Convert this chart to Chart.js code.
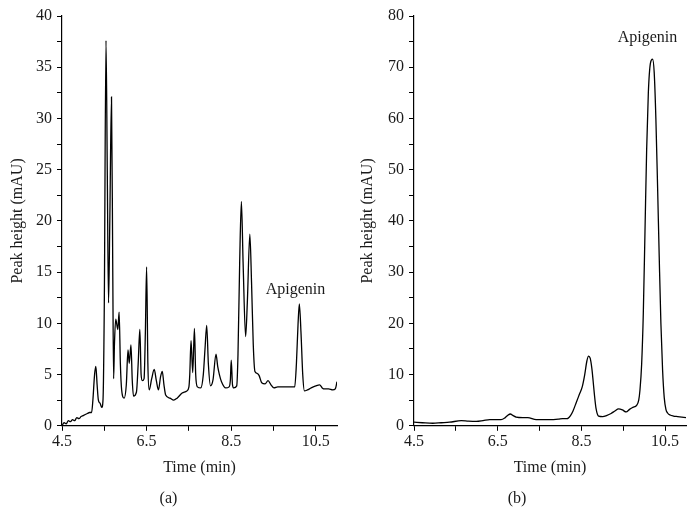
<!DOCTYPE html>
<html>
<head>
<meta charset="utf-8">
<script src="https://cdn.jsdelivr.net/npm/chart.js@4.4.1/dist/chart.umd.min.js"></script>
<style>
  body { margin: 0; background: #fff; }
  #wrap { position: relative; width: 697px; height: 530px; }
  canvas { position: absolute; top: 0; }
  #chartA { left: 0; }
  #chartB { left: 348px; }
</style>
</head>
<body>
<div id="wrap">
  <canvas id="chartA" width="348" height="530"></canvas>
  <canvas id="chartB" width="349" height="530"></canvas>
</div>
<script>
// chromatogram (a): retention time (min) and peak height (mAU)
const timesA = [4.50, 4.55, 4.60, 4.65, 4.70, 4.75, 4.80, 4.85, 4.90, 4.95, 5.00, 5.05, 5.10, 5.15, 5.20,
  5.23, 5.27, 5.30, 5.33, 5.36, 5.40, 5.44, 5.47, 5.50, 5.54, 5.57, 5.60, 5.63, 5.67, 5.70, 5.72, 5.74,
  5.77, 5.82, 5.85, 5.88, 5.91, 5.97, 6.02, 6.06, 6.09, 6.13, 6.16, 6.19, 6.26, 6.30, 6.34, 6.37, 6.40,
  6.44, 6.47, 6.50, 6.53, 6.56, 6.62, 6.68, 6.73, 6.78, 6.83, 6.87, 6.91, 6.95, 7.05, 7.14, 7.22, 7.34,
  7.45, 7.50, 7.52, 7.55, 7.59, 7.63, 7.66, 7.70, 7.78, 7.84, 7.88, 7.92, 7.96, 8.01, 8.07, 8.14, 8.18,
  8.22, 8.27, 8.37, 8.45, 8.48, 8.50, 8.53, 8.56, 8.63, 8.66, 8.70, 8.74, 8.78, 8.84, 8.88, 8.94, 8.98,
  9.02, 9.06, 9.12, 9.16, 9.22, 9.30, 9.37, 9.44, 9.51, 9.60, 9.75, 9.90, 10.00, 10.04, 10.08, 10.11,
  10.15, 10.19, 10.23, 10.30, 10.39, 10.50, 10.59, 10.65, 10.71, 10.80, 10.90, 10.96, 11.00];
const signalA = [0.0, 0.3, 0.2, 0.5, 0.4, 0.6, 0.5, 0.8, 0.7, 0.9, 1.0, 1.1, 1.2, 1.3, 1.3,
  2.5, 5.0, 5.8, 4.0, 2.5, 2.2, 1.8, 2.6, 12.0, 37.6, 25.0, 12.0, 20.0, 32.1, 15.0, 4.6, 8.0,
  10.4, 9.4, 11.1, 6.0, 3.5, 2.7, 4.0, 7.4, 6.1, 7.9, 4.5, 2.9, 3.3, 6.0, 9.4, 5.0, 4.4,
  4.6, 9.0, 15.5, 6.0, 3.5, 4.6, 5.5, 4.4, 3.5, 4.8, 5.3, 4.0, 3.0, 2.7, 2.5, 2.7, 3.2,
  3.4, 3.8, 5.0, 8.3, 5.2, 9.5, 5.0, 3.8, 3.7, 5.0, 7.5, 9.8, 6.0, 3.9, 4.5, 7.0, 5.8,
  5.0, 4.3, 3.7, 3.8, 4.5, 6.4, 4.0, 3.7, 3.9, 7.0, 16.0, 21.9, 16.0, 8.7, 12.0, 18.7, 14.0,
  8.0, 5.3, 5.1, 4.9, 4.2, 4.1, 4.4, 4.0, 3.7, 3.8, 3.8, 3.8, 3.8, 6.0, 10.0, 11.9,
  9.0, 5.0, 3.4, 3.5, 3.7, 3.9, 4.0, 3.7, 3.6, 3.6, 3.5, 3.6, 4.3];

// chromatogram (b)
const timesB = [4.50, 4.70, 4.95, 5.15, 5.35, 5.63, 5.80, 5.99, 6.15, 6.31, 6.58, 6.68, 6.75, 6.80,
  6.87, 6.94, 7.10, 7.22, 7.42, 7.74, 7.95, 8.05, 8.16, 8.24, 8.30, 8.38, 8.45, 8.52, 8.58, 8.63,
  8.67, 8.71, 8.75, 8.78, 8.81, 8.85, 8.91, 9.01, 9.10, 9.21, 9.30, 9.39, 9.48, 9.57, 9.65, 9.73,
  9.82, 9.87, 9.90, 9.94, 9.98, 10.02, 10.06, 10.10, 10.15, 10.20, 10.24, 10.28, 10.32, 10.36,
  10.40, 10.44, 10.48, 10.52, 10.56, 10.62, 10.70, 10.80, 10.90, 11.00];
const signalB = [0.7, 0.6, 0.5, 0.6, 0.7, 1.0, 0.9, 0.85, 1.0, 1.2, 1.2, 1.6, 2.1, 2.3,
  2.0, 1.7, 1.6, 1.6, 1.2, 1.2, 1.3, 1.4, 1.4, 2.0, 2.9, 4.6, 6.1, 7.6, 10.0, 12.6,
  13.6, 13.2, 11.2, 8.8, 6.2, 3.4, 1.9, 1.8, 2.0, 2.4, 2.9, 3.3, 3.1, 2.7, 3.2, 3.6,
  4.0, 5.0, 7.0, 12.0, 22.0, 38.0, 54.0, 65.0, 70.8, 71.6, 69.0, 60.0, 47.0, 33.0,
  20.0, 11.0, 5.5, 3.2, 2.5, 2.1, 1.9, 1.8, 1.7, 1.6];

// axis ticks
const timeTicks = [4.5, 5.5, 6.5, 7.5, 8.5, 9.5, 10.5];
const timeLabels = [4.5, 6.5, 8.5, 10.5];
const heightTicksA = [0, 2.5, 5, 7.5, 10, 12.5, 15, 17.5, 20, 22.5, 25, 27.5, 30, 32.5, 35, 37.5, 40];
const heightTicksB = [0, 5, 10, 15, 20, 25, 30, 35, 40, 45, 50, 55, 60, 65, 70, 75, 80];

const FONT = "'Liberation Serif', 'DejaVu Serif', serif";
const INK = "#1a1a1a";

// "Apigenin" label, placed in data coordinates
const labelPlugin = {
  id: "peakLabel",
  afterDatasetsDraw(chart, args, opts) {
    const c = chart.ctx;
    c.save();
    c.font = "16px " + FONT;
    c.fillStyle = INK;
    c.textAlign = "center";
    c.textBaseline = "middle";
    c.fillText(opts.text, chart.scales.x.getPixelForValue(opts.x), chart.scales.y.getPixelForValue(opts.y));
    c.restore();
  }
};

function makeChart(id, times, signal, yMax, yTicks, yStep, yWidth, titlePad, panel, label) {
  return new Chart(document.getElementById(id), {
    type: "line",
    data: {
      datasets: [{
        data: times.map((t, i) => ({ x: t, y: signal[i] })),
        borderColor: "#000",
        borderWidth: 1.3,
        pointRadius: 0,
        cubicInterpolationMode: "monotone",
        fill: false
      }]
    },
    options: {
      responsive: false,
      animation: false,
      devicePixelRatio: 1,
      layout: { padding: { top: 16, right: 11, left: 0, bottom: 0 } },
      plugins: {
        legend: { display: false },
        tooltip: { enabled: false },
        title: {
          display: true,
          position: "bottom",
          text: panel,
          color: INK,
          font: { family: FONT, size: 16, weight: "normal", lineHeight: 1.2 },
          padding: { top: 11, bottom: 22 }
        },
        peakLabel: label
      },
      scales: {
        x: {
          type: "linear",
          min: 4.5,
          max: 11,
          afterBuildTicks: s => { s.ticks = timeTicks.map(v => ({ value: v })); },
          afterFit: s => { s.height = 52; },
          ticks: {
            autoSkip: false,
            maxRotation: 0,
            padding: 1,
            color: INK,
            font: { family: FONT, size: 16, lineHeight: 1.2 },
            callback: v => timeLabels.includes(v) ? v.toFixed(1) : ""
          },
          grid: { drawOnChartArea: false, drawTicks: true, tickLength: 5, color: "#000" },
          border: { display: true, color: "#000", width: 1.2 },
          title: {
            display: true,
            text: "Time (min)",
            color: INK,
            font: { family: FONT, size: 16, lineHeight: 1.2 },
            padding: { top: 0, bottom: 0 }
          }
        },
        y: {
          type: "linear",
          min: 0,
          max: yMax,
          afterBuildTicks: s => { s.ticks = yTicks.map(v => ({ value: v })); },
          afterFit: s => { s.width = yWidth; },
          ticks: {
            autoSkip: false,
            padding: 5,
            color: INK,
            font: { family: FONT, size: 16, lineHeight: 1.2 },
            callback: v => v % yStep === 0 ? String(v) : ""
          },
          grid: { drawOnChartArea: false, drawTicks: true, tickLength: 5, color: "#000" },
          border: { display: true, color: "#000", width: 1.2 },
          title: {
            display: true,
            text: "Peak height (mAU)",
            color: INK,
            font: { family: FONT, size: 16, lineHeight: 1.2 },
            padding: { top: titlePad, bottom: 0 }
          }
        }
      }
    },
    plugins: [labelPlugin]
  });
}

makeChart("chartA", timesA, signalA, 40, heightTicksA, 5, 62, 8, "(a)", { text: "Apigenin", x: 10.02, y: 13.3 });
makeChart("chartB", timesB, signalB, 80, heightTicksB, 10, 66, 10, "(b)", { text: "Apigenin", x: 10.08, y: 75.8 });
</script>
</body>
</html>
